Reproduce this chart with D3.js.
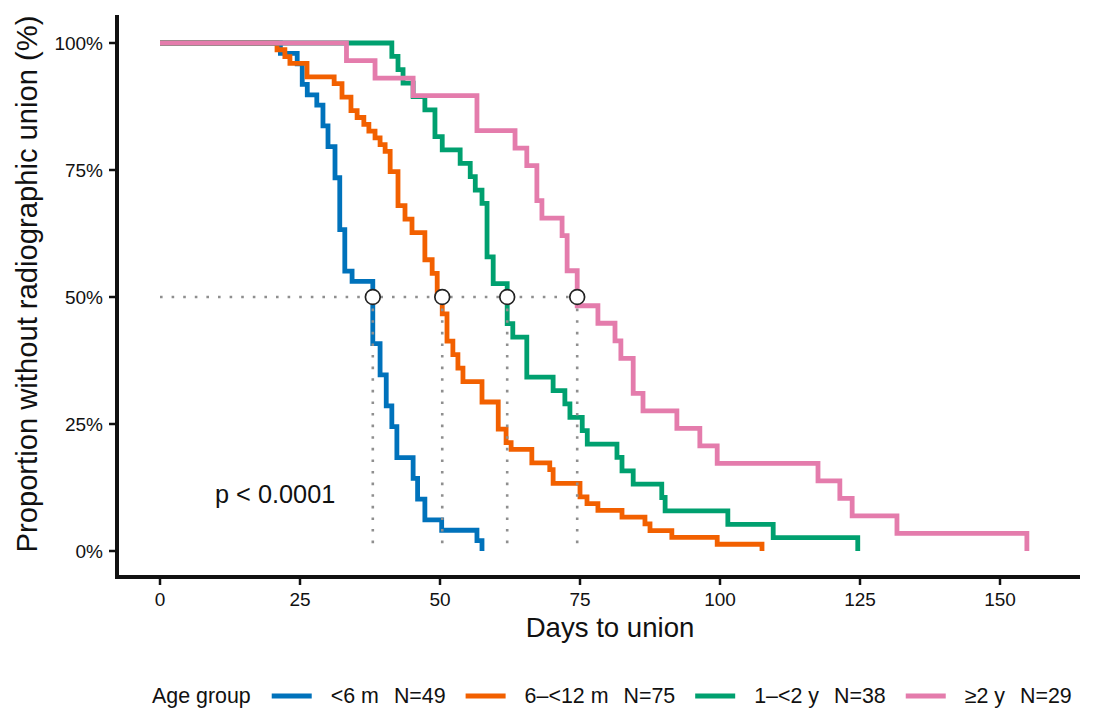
<!DOCTYPE html>
<html>
<head>
<meta charset="utf-8">
<script src="https://cdn.jsdelivr.net/npm/d3@7"></script>
<style>
  html, body { margin: 0; padding: 0; background: #fff; }
  svg { display: block; font-family: "Liberation Sans", Arial, sans-serif; }
</style>
</head>
<body>
<svg id="chart" width="1095" height="709"></svg>
<script>
// groups, sizes and colours
const groups = ["<6 m", "6–<12 m", "1–<2 y", "≥2 y"];
const groupN = [49, 75, 38, 29];
const groupColors = ["#0072BB", "#F26000", "#00A06F", "#E47CAC"];

// step points (days, % without union)
const blueTimes = [0, 21.5, 24.5, 25.4, 26.3, 28, 29.1, 30, 31.25, 32.1, 33, 34.3, 38, 39.3, 40.4, 41.4, 42.3, 45.2, 46, 47.3, 50.3, 56.6, 57.5];
const blueSurv = [100, 97.96, 95.92, 91.84, 89.8, 87.76, 83.67, 79.59, 73.47, 63.27, 55.1, 53.06, 40.82, 34.69, 28.57, 24.49, 18.37, 14.29, 10.2, 6.12, 4.08, 2.04, 0];

const orangeTimes = [0, 20.9, 22.3, 23.2, 26.25, 31.1, 32.5, 34.1, 35.2, 36.4, 37.3, 38.4, 39.3, 40.2, 41.1, 42.5, 43.75, 45, 47.3, 48.6, 49.5, 50.4, 51.25, 52.3, 53.2, 54.1, 57.5, 60.4, 61.8, 62.7, 66.4, 69.6, 70.2, 75, 76.25, 78.2, 82.5, 86.6, 87.5, 91.4, 99.5, 107.5];
const orangeSurv = [100, 98.67, 97.33, 96, 93.33, 92, 89.33, 86.67, 85.33, 84, 82.67, 81.33, 80, 78.67, 74.67, 68, 65.33, 62.67, 57.33, 54.67, 50.67, 46.67, 41.33, 38.67, 36, 33.33, 29.33, 24, 21.33, 20, 17.33, 16, 13.33, 10.67, 9.33, 8, 6.67, 5.33, 4, 2.67, 1.33, 0];

const greenTimes = [0, 41.4, 42.5, 43.4, 45.2, 47.3, 49.1, 50.4, 53.6, 55.4, 56.3, 57.5, 58.4, 59.5, 62, 63, 65.5, 70.2, 72.3, 73.2, 75.4, 76.3, 81.6, 82.5, 84.5, 89.6, 90.2, 101.4, 109.5, 124.6];
const greenSurv = [100, 97.37, 94.74, 92.11, 89.47, 86.84, 81.58, 78.95, 76.32, 73.68, 71.05, 68.42, 57.89, 52.63, 44.74, 42.11, 34.21, 31.58, 28.95, 26.32, 23.68, 21.05, 18.42, 15.79, 13.16, 10.53, 7.89, 5.26, 2.63, 0];

const pinkTimes = [0, 33.3, 38.4, 45.2, 56.6, 63.4, 65.5, 67.3, 68.2, 71.8, 72.7, 74.5, 78.2, 81.25, 82.3, 84.5, 86.25, 92.3, 96.4, 99.5, 117.5, 121.4, 123.6, 131.6, 154.8];
const pinkSurv = [100, 96.55, 93.1, 89.66, 82.76, 79.31, 75.86, 68.97, 65.52, 62.07, 55.17, 48.28, 44.83, 41.38, 37.93, 31.03, 27.59, 24.14, 20.69, 17.24, 13.79, 10.34, 6.9, 3.45, 0];

const xTicks = [0, 25, 50, 75, 100, 125, 150];
const yTicks = [0, 25, 50, 75, 100];
const pText = "p < 0.0001";

const curves = [
    [blueTimes, blueSurv],
    [orangeTimes, orangeSurv],
    [greenTimes, greenSurv],
    [pinkTimes, pinkSurv]
];

const svg = d3.select("#chart");
const ink = "#111";

const x = d3.scaleLinear().domain([0, 150]).range([160, 1000]);
const y = d3.scaleLinear().domain([0, 100]).range([551, 43]);

// panel edges (expanded like ggplot)
const panelL = 117, panelR = 1080, panelT = 15, panelB = 577;

// curves, first group drawn first
const line = d3.line()
    .x(d => x(d[0]))
    .y(d => y(d[1]))
    .curve(d3.curveStepAfter);

const curveG = svg.append("g").attr("fill", "none").attr("stroke-width", 4.8);
curves.forEach((c, i) => {
    const pts = c[0].map((t, j) => [t, c[1][j]]);
    curveG.append("path")
        .attr("d", line(pts))
        .attr("stroke", groupColors[i]);
});

// medians: first time survival drops to 50% or below
const medians = curves.map(c => {
    const j = c[1].findIndex(s => s <= 50);
    return c[0][j];
});

const medG = svg.append("g")
    .attr("stroke", "#8f8f8f")
    .attr("stroke-width", 2.6)
    .attr("stroke-dasharray", "2.6,9");
medG.append("line")
    .attr("x1", x(0)).attr("x2", x(d3.max(medians)))
    .attr("y1", y(50)).attr("y2", y(50));
medians.forEach(m => {
    medG.append("line")
        .attr("x1", x(m)).attr("x2", x(m))
        .attr("y1", y(50)).attr("y2", y(0));
});
svg.append("g").selectAll("circle")
    .data(medians)
    .join("circle")
    .attr("cx", d => x(d))
    .attr("cy", y(50))
    .attr("r", 7.4)
    .attr("fill", "#fff")
    .attr("stroke", "#222")
    .attr("stroke-width", 1.7);

// axes lines
svg.append("line")
    .attr("x1", panelL).attr("x2", panelL)
    .attr("y1", panelT).attr("y2", panelB + 2)
    .attr("stroke", ink).attr("stroke-width", 4);
svg.append("line")
    .attr("x1", panelL - 2).attr("x2", panelR)
    .attr("y1", panelB).attr("y2", panelB)
    .attr("stroke", ink).attr("stroke-width", 4);

// ticks
svg.append("g").selectAll("line")
    .data(xTicks)
    .join("line")
    .attr("x1", d => x(d)).attr("x2", d => x(d))
    .attr("y1", panelB).attr("y2", panelB + 8)
    .attr("stroke", ink).attr("stroke-width", 2.5);
svg.append("g").selectAll("text")
    .data(xTicks)
    .join("text")
    .attr("x", d => x(d))
    .attr("y", 606)
    .attr("text-anchor", "middle")
    .attr("font-size", 19)
    .attr("fill", ink)
    .text(d => d);

svg.append("g").selectAll("line")
    .data(yTicks)
    .join("line")
    .attr("x1", panelL - 8).attr("x2", panelL)
    .attr("y1", d => y(d)).attr("y2", d => y(d))
    .attr("stroke", ink).attr("stroke-width", 2.5);
svg.append("g").selectAll("text")
    .data(yTicks)
    .join("text")
    .attr("x", 103)
    .attr("y", d => y(d) + 6.8)
    .attr("text-anchor", "end")
    .attr("font-size", 19)
    .attr("fill", ink)
    .text(d => d + "%");

// axis titles
svg.append("text")
    .attr("x", 610)
    .attr("y", 637)
    .attr("text-anchor", "middle")
    .attr("font-size", 27.6)
    .attr("fill", ink)
    .text("Days to union");
svg.append("text")
    .attr("transform", "translate(37,284) rotate(-90)")
    .attr("text-anchor", "middle")
    .attr("font-size", 29.2)
    .attr("fill", ink)
    .text("Proportion without radiographic union (%)");

// p value
svg.append("text")
    .attr("x", 215)
    .attr("y", 503)
    .attr("font-size", 25.3)
    .attr("fill", ink)
    .text(pText);

// legend
const legG = svg.append("g").attr("font-size", 21.4).attr("fill", ink);
let lx = 152;
const ly = 703;
const t0 = legG.append("text").attr("x", lx).attr("y", ly).text("Age group");
lx += t0.node().getComputedTextLength() + 21;
groups.forEach((g, i) => {
    legG.append("line")
        .attr("x1", lx).attr("x2", lx + 40)
        .attr("y1", 696).attr("y2", 696)
        .attr("stroke", groupColors[i])
        .attr("stroke-width", 5);
    lx += 40 + 19;
    const a = legG.append("text").attr("x", lx).attr("y", ly).text(g);
    lx += a.node().getComputedTextLength() + 15;
    const b = legG.append("text").attr("x", lx).attr("y", ly).text("N=" + groupN[i]);
    lx += b.node().getComputedTextLength() + 20;
});
</script>
</body>
</html>
